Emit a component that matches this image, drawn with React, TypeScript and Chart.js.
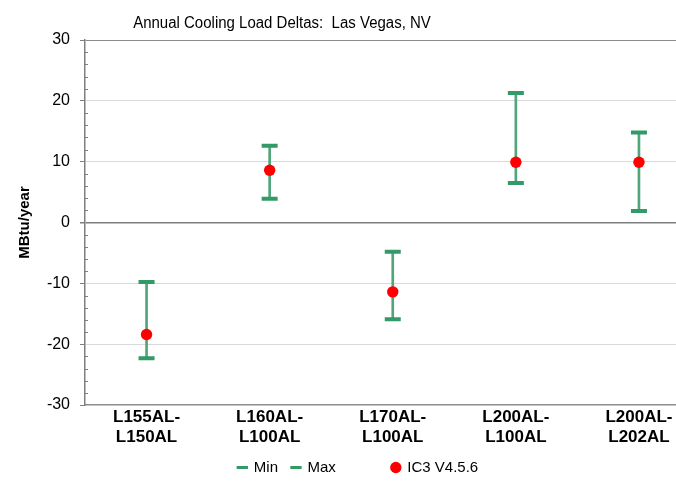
import React, { useEffect, useRef } from "react";
import { Chart, registerables } from "chart.js";

Chart.register(...registerables);

const TITLE = "Annual Cooling Load Deltas:  Las Vegas, NV";
const Y_TITLE = "MBtu/year";
const CATEGORIES: string[][] = [
  ["L155AL-", "L150AL"],
  ["L160AL-", "L100AL"],
  ["L170AL-", "L100AL"],
  ["L200AL-", "L100AL"],
  ["L200AL-", "L202AL"],
];
const MIN_VALUES = [-22.3, 3.9, -15.9, 6.5, 1.9];
const MAX_VALUES = [-9.8, 12.6, -4.8, 21.3, 14.8];
const IC3_VALUES = [-18.4, 8.6, -11.4, 9.9, 9.9];
const SERIES_NAMES = ["Min", "Max", "IC3 V4.5.6"];
const Y_MIN = -30;
const Y_MAX = 30;
const Y_STEP = 10;
const Y_MINOR_STEP = 2;

const FONT = '"Liberation Sans", Arial, sans-serif';
const GREEN = "#339966";
const RANGE_GREEN = "#4fa67a";
const RED = "#ff0000";

const titlePlugin = {
  id: "customTitle",
  afterDraw(chart: any) {
    const ctx = chart.ctx;
    ctx.save();
    ctx.font = `15px ${FONT}`;
    ctx.fillStyle = "#000";
    ctx.textAlign = "center";
    ctx.textBaseline = "alphabetic";
    ctx.translate(282, 28);
    ctx.scale(1, 1.15);
    ctx.fillText(TITLE, 0, 0);
    ctx.restore();
  },
};

const minorTickPlugin = {
  id: "minorTicks",
  afterDraw(chart: any) {
    const ctx = chart.ctx;
    const y = chart.scales.y;
    const x0 = chart.chartArea.left;
    ctx.save();
    ctx.strokeStyle = "#7f7f7f";
    ctx.lineWidth = 1;
    ctx.beginPath();
    for (let v = Y_MIN; v <= Y_MAX; v += Y_MINOR_STEP) {
      if (v % Y_STEP === 0) continue;
      const py = Math.round(y.getPixelForValue(v)) + 0.5;
      ctx.moveTo(x0, py);
      ctx.lineTo(x0 + 3, py);
    }
    ctx.stroke();
    ctx.restore();
  },
};

export default function App() {
  const ref = useRef<HTMLCanvasElement | null>(null);

  useEffect(() => {
    document.body.style.margin = "0";
    const canvas = ref.current;
    if (!canvas) return;
    const chart = new Chart(canvas, {
      type: "bar",
      data: {
        labels: CATEGORIES,
        datasets: [
          {
            type: "bar",
            label: "range",
            data: MIN_VALUES.map((v, i) => [v, MAX_VALUES[i]]) as any,
            backgroundColor: RANGE_GREEN,
            borderWidth: 0,
            barThickness: 2,
            order: 3,
          } as any,
          {
            type: "line",
            label: SERIES_NAMES[0],
            data: MIN_VALUES,
            showLine: false,
            pointStyle: "line",
            pointRadius: 8,
            pointBorderWidth: 4,
            pointBorderColor: GREEN,
            pointBackgroundColor: GREEN,
            borderColor: GREEN,
            backgroundColor: GREEN,
            borderWidth: 3,
            order: 2,
          },
          {
            type: "line",
            label: SERIES_NAMES[1],
            data: MAX_VALUES,
            showLine: false,
            pointStyle: "line",
            pointRadius: 8,
            pointBorderWidth: 4,
            pointBorderColor: GREEN,
            pointBackgroundColor: GREEN,
            borderColor: GREEN,
            backgroundColor: GREEN,
            borderWidth: 3,
            order: 2,
          },
          {
            type: "line",
            label: SERIES_NAMES[2],
            data: IC3_VALUES,
            showLine: false,
            pointStyle: "circle",
            pointRadius: 5.7,
            pointBorderWidth: 0,
            pointBackgroundColor: RED,
            borderColor: RED,
            backgroundColor: RED,
            borderWidth: 0,
            order: 1,
          },
        ],
      },
      options: {
        responsive: false,
        animation: false,
        devicePixelRatio: 1,
        layout: { padding: { top: 40, left: 16, right: 29.5, bottom: -2 } },
        plugins: {
          title: { display: false },
          tooltip: { enabled: false },
          legend: {
            display: true,
            position: "bottom",
            labels: {
              usePointStyle: true,
              boxWidth: 8,
              boxHeight: 8,
              padding: 14,
              color: "#000",
              font: { family: FONT, size: 15 },
              generateLabels: (chart: any) => {
                const ds = chart.data.datasets;
                const item = (i: number) => ({
                  text: ds[i].label,
                  fillStyle: ds[i].backgroundColor,
                  strokeStyle: ds[i].borderColor,
                  lineWidth: ds[i].borderWidth,
                  pointStyle: ds[i].pointStyle,
                  hidden: false,
                  datasetIndex: i,
                });
                return [
                  item(1),
                  item(2),
                  {
                    text: "   ",
                    fillStyle: "rgba(0,0,0,0)",
                    strokeStyle: "rgba(0,0,0,0)",
                    lineWidth: 0,
                    pointStyle: "circle",
                    hidden: false,
                  },
                  item(3),
                ];
              },
            },
          },
        },
        scales: {
          x: {
            type: "category",
            offset: true,
            afterFit: (scale: any) => {
              scale.height = 41;
            },
            grid: { display: false, drawTicks: false },
            border: { display: true, color: "#8c8c8c", width: 1.5 },
            ticks: {
              color: "#000",
              padding: 3,
              maxRotation: 0,
              autoSkip: false,
              font: { family: FONT, size: 17, weight: "bold", lineHeight: 1.15 },
            },
          },
          y: {
            type: "linear",
            min: Y_MIN,
            max: Y_MAX,
            afterFit: (scale: any) => {
              scale.width = 69;
            },
            ticks: {
              stepSize: Y_STEP,
              color: "#000",
              padding: 10,
              font: { family: FONT, size: 16 },
            },
            grid: {
              drawTicks: true,
              tickLength: 5,
              tickColor: "#7f7f7f",
              color: (c: any) => {
                const v = c.tick ? c.tick.value : null;
                if (v === 0) return "#7f7f7f";
                if (v === Y_MAX) return "#8c8c8c";
                if (v === Y_MIN) return "rgba(0,0,0,0)";
                return "#d9d9d9";
              },
              lineWidth: (c: any) => (c.tick && c.tick.value === 0 ? 1.5 : 1),
            },
            border: { display: true, color: "#7f7f7f", width: 1.5 },
            title: {
              display: true,
              text: Y_TITLE,
              color: "#000",
              padding: { top: 0, bottom: 0 },
              font: { family: FONT, size: 15, weight: "bold", lineHeight: 1.2 },
            },
          },
        },
      },
      plugins: [titlePlugin, minorTickPlugin],
    } as any);
    return () => chart.destroy();
  }, []);

  return (
    <div style={{ width: 676, height: 483, overflow: "hidden", position: "relative", background: "#fff" }}>
      <canvas ref={ref} width={730} height={483} style={{ display: "block" }} />
    </div>
  );
}
